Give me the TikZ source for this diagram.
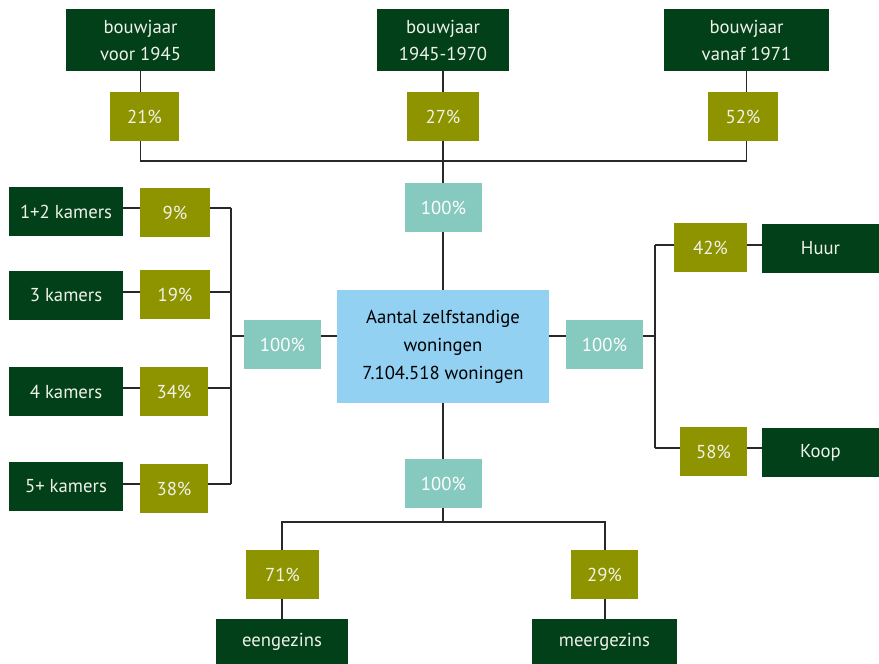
\documentclass[tikz,border=0pt]{standalone}
\usepackage{fontspec}
\setmainfont{PT Sans}
\definecolor{dkgreen}{RGB}{2,64,26}
\definecolor{olive}{RGB}{142,148,0}
\definecolor{teal2}{RGB}{133,201,191}
\definecolor{ltblue}{RGB}{146,209,242}
\definecolor{linec}{RGB}{40,40,40}
\definecolor{txtlight}{RGB}{240,242,232}
\tikzset{
  box/.style={rectangle, inner sep=0pt, align=center, font=\fontsize{18.7}{27}\selectfont},
  cat/.style={box, fill=dkgreen, text=txtlight},
  pct/.style={box, fill=olive, text=txtlight},
  tot/.style={box, fill=teal2, text=white},
  main/.style={box, fill=ltblue, text=black, font=\fontsize{18.7}{28}\selectfont},
  conn/.style={draw=linec, line width=1.2pt}
}
\begin{document}
\begin{tikzpicture}[x=1pt,y=-1pt]
\useasboundingbox (0,0) rectangle (879,664);
% top categories
\node[cat, minimum width=149pt, minimum height=62pt] (b1) at (140.5,40) {bouwjaar\\voor 1945};
\node[cat, minimum width=132pt, minimum height=62pt] (b2) at (443,40) {bouwjaar\\1945-1970};
\node[cat, minimum width=165pt, minimum height=62pt] (b3) at (746.5,40) {bouwjaar\\vanaf 1971};
\node[pct, minimum width=69pt, minimum height=49pt] (p21) at (144.5,116.5) {21\%};
\node[pct, minimum width=72pt, minimum height=49pt] (p27) at (443,116.5) {27\%};
\node[pct, minimum width=70pt, minimum height=49pt] (p52) at (743,116.5) {52\%};
\node[tot, minimum width=77pt, minimum height=49pt] (t1) at (443.5,207.5) {100\%};
% centre
\node[main, minimum width=212pt, minimum height=113pt] (c) at (443,346.5) {Aantal zelfstandige\\woningen\\7.104.518 woningen};
% left
\node[tot, minimum width=77pt, minimum height=49pt] (t2) at (282.5,344.5) {100\%};
\node[cat, minimum width=114pt, minimum height=49pt] (k1) at (66,211.5) {1+2 kamers};
\node[cat, minimum width=114pt, minimum height=49pt] (k2) at (66,295.5) {3 kamers};
\node[cat, minimum width=114pt, minimum height=49pt] (k3) at (66,391.5) {4 kamers};
\node[cat, minimum width=114pt, minimum height=49pt] (k4) at (66,486.5) {5+ kamers};
\node[pct, minimum width=70pt, minimum height=49pt] (p9) at (175,212.5) {9\%};
\node[pct, minimum width=70pt, minimum height=49pt] (p19) at (175,294.5) {19\%};
\node[pct, minimum width=68pt, minimum height=49pt] (p34) at (174,391.5) {34\%};
\node[pct, minimum width=68pt, minimum height=49pt] (p38) at (174,488.5) {38\%};
% right
\node[tot, minimum width=77pt, minimum height=49pt] (t3) at (604.5,344.5) {100\%};
\node[pct, minimum width=73pt, minimum height=49pt] (p42) at (710.5,247.5) {42\%};
\node[pct, minimum width=67pt, minimum height=49pt] (p58) at (713.5,451.5) {58\%};
\node[cat, minimum width=117pt, minimum height=49pt] (huur) at (820.5,248.5) {Huur};
\node[cat, minimum width=117pt, minimum height=49pt] (koop) at (820.5,452.5) {Koop};
% bottom
\node[tot, minimum width=77pt, minimum height=49pt] (t4) at (443.5,483.5) {100\%};
\node[pct, minimum width=73pt, minimum height=49pt] (p71) at (282.5,574.5) {71\%};
\node[pct, minimum width=67pt, minimum height=49pt] (p29) at (604.5,574.5) {29\%};
\node[cat, minimum width=132pt, minimum height=45pt] (een) at (282,641.5) {eengezins};
\node[cat, minimum width=145pt, minimum height=45pt] (meer) at (604.5,641.5) {meergezins};
% junction coordinates
\coordinate (tj) at (443,161);
\coordinate (lj) at (231,336);
\coordinate (rj) at (655,336);
\coordinate (bj) at (443,522);
% top connectors
\draw[conn] (b1.south) -- (b1.south |- p21.north);
\draw[conn] (b2.south) -- (b2.south |- p27.north);
\draw[conn] (b3.south) -- (b3.south |- p52.north);
\draw[conn] (b1.south |- p21.south) -- (b1.south |- tj) -- (b3.south |- tj) -- (b3.south |- p52.south);
\draw[conn] (b2.south |- p27.south) -- (tj) -- (t1.north -| tj);
\draw[conn] (t1.south -| tj) -- (c.north -| tj);
% left connectors
\draw[conn] (c.west |- lj) -- (t2.east |- lj);
\draw[conn] (t2.west |- lj) -- (lj);
\coordinate (r1) at (231,208);
\coordinate (r2) at (231,292);
\coordinate (r3) at (231,388);
\coordinate (r4) at (231,484);
\draw[conn] (r1) -- (r4);
\draw[conn] (k1.east |- r1) -- (p9.west |- r1);
\draw[conn] (p9.east |- r1) -- (r1);
\draw[conn] (k2.east |- r2) -- (p19.west |- r2);
\draw[conn] (p19.east |- r2) -- (r2);
\draw[conn] (k3.east |- r3) -- (p34.west |- r3);
\draw[conn] (p34.east |- r3) -- (r3);
\draw[conn] (k4.east |- r4) -- (p38.west |- r4);
\draw[conn] (p38.east |- r4) -- (r4);
% right connectors
\draw[conn] (c.east |- rj) -- (t3.west |- rj);
\draw[conn] (t3.east |- rj) -- (rj);
\coordinate (s1) at (655,245);
\coordinate (s2) at (655,448);
\draw[conn] (s1) -- (s2);
\draw[conn] (s1) -- (p42.west |- s1);
\draw[conn] (p42.east |- s1) -- (huur.west |- s1);
\draw[conn] (s2) -- (p58.west |- s2);
\draw[conn] (p58.east |- s2) -- (koop.west |- s2);
% bottom connectors
\draw[conn] (c.south -| bj) -- (t4.north -| bj);
\draw[conn] (t4.south -| bj) -- (bj);
\coordinate (u1) at (282,522);
\coordinate (u2) at (605,522);
\draw[conn] (u1 |- p71.north) -- (u1) -- (u2) -- (u2 |- p29.north);
\draw[conn] (u1 |- p71.south) -- (u1 |- een.north);
\draw[conn] (u2 |- p29.south) -- (u2 |- meer.north);
\end{tikzpicture}
\end{document}
